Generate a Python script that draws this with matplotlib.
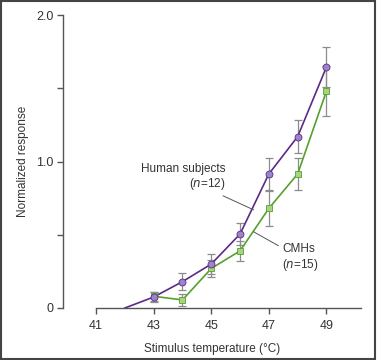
import matplotlib
matplotlib.use("Agg")
import matplotlib.pyplot as plt
from matplotlib.patches import Rectangle

plt.rcParams['font.family'] = ['Liberation Sans', 'DejaVu Sans']

# data
temps = [43, 44, 45, 46, 47, 48, 49]
human = [0.075, 0.18, 0.30, 0.505, 0.915, 1.17, 1.645]
human_err = [0.035, 0.06, 0.07, 0.075, 0.11, 0.11, 0.135]
cmh = [0.08, 0.055, 0.27, 0.39, 0.68, 0.915, 1.48]
cmh_err = [0.03, 0.04, 0.06, 0.07, 0.12, 0.11, 0.17]
human_start = (42, 0.0)

xticks = [41, 43, 45, 47, 49]
yticks = [0, 0.5, 1.0, 1.5, 2.0]
ylabels = ["0", "", "1.0", "", "2.0"]

purple = "#5b2a86"
purple_fill = "#9d83c9"
green = "#56a02e"
green_fill = "#a9d282"
errc = "#8c8c8c"
axc = "#555555"
txtc = "#333333"

fig = plt.figure(figsize=(3.77, 3.60), dpi=100)
ax = fig.add_axes([63/377, 1 - 308/360, (361 - 63)/377, (308 - 15)/360])

# error bars behind markers
ax.errorbar(temps, human, yerr=human_err, fmt="none", ecolor=errc, elinewidth=0.9,
            capsize=3, capthick=0.9, zorder=1)
ax.errorbar(temps, cmh, yerr=cmh_err, fmt="none", ecolor=errc, elinewidth=0.9,
            capsize=3, capthick=0.9, zorder=1)

ax.plot([human_start[0]] + temps, [human_start[1]] + human, color=purple, lw=1.2, zorder=2)
ax.plot(temps, human, "o", color=purple, mfc=purple_fill, mec=purple, ms=5, mew=0.6, zorder=4)
ax.plot(temps, cmh, color=green, lw=1.2, zorder=2)
ax.plot(temps, cmh, "s", color=green, mfc=green_fill, mec=green, ms=5, mew=0.6, zorder=3)

ax.set_xlim(39.85, 50.2)
ax.set_ylim(0, 2.0)
ax.set_xticks(xticks)
ax.set_yticks(yticks)
ax.set_yticklabels(ylabels)

for s in ["top", "right"]:
    ax.spines[s].set_visible(False)
for s in ["left", "bottom"]:
    ax.spines[s].set_color(axc)
    ax.spines[s].set_linewidth(1.0)
ax.spines["bottom"].set_bounds(41, 50.2)
ax.tick_params(axis="both", direction="out", colors=axc, labelcolor=txtc,
               labelsize=9, width=1.0)
ax.tick_params(axis="x", length=4.5, pad=4)
ax.tick_params(axis="y", length=4, pad=3)

ax.set_xlabel("Stimulus temperature (°C)", fontsize=8.5, color=txtc, labelpad=8)
ax.set_ylabel("Normalized response", fontsize=8.5, color=txtc, labelpad=5)

# callouts
ax.annotate("Human subjects\n($\\it{n}$=12)", xy=(46.47, 0.67), xytext=(45.5, 0.89),
            ha="right", va="center", fontsize=8.5, color=txtc, linespacing=1.15,
            arrowprops=dict(arrowstyle="-", color="#555555", lw=0.7, shrinkA=1, shrinkB=0))
ax.annotate("CMHs\n($\\it{n}$=15)", xy=(46.47, 0.52), xytext=(47.47, 0.34),
            ha="left", va="center", fontsize=8.5, color=txtc, linespacing=1.15,
            arrowprops=dict(arrowstyle="-", color="#555555", lw=0.7, shrinkA=1, shrinkB=0))

fig.patches.append(Rectangle((0.002, 0.004), 0.993, 0.993, transform=fig.transFigure,
                             fill=False, edgecolor="#444444", lw=1.5))

fig.savefig("out.png", dpi=100)
